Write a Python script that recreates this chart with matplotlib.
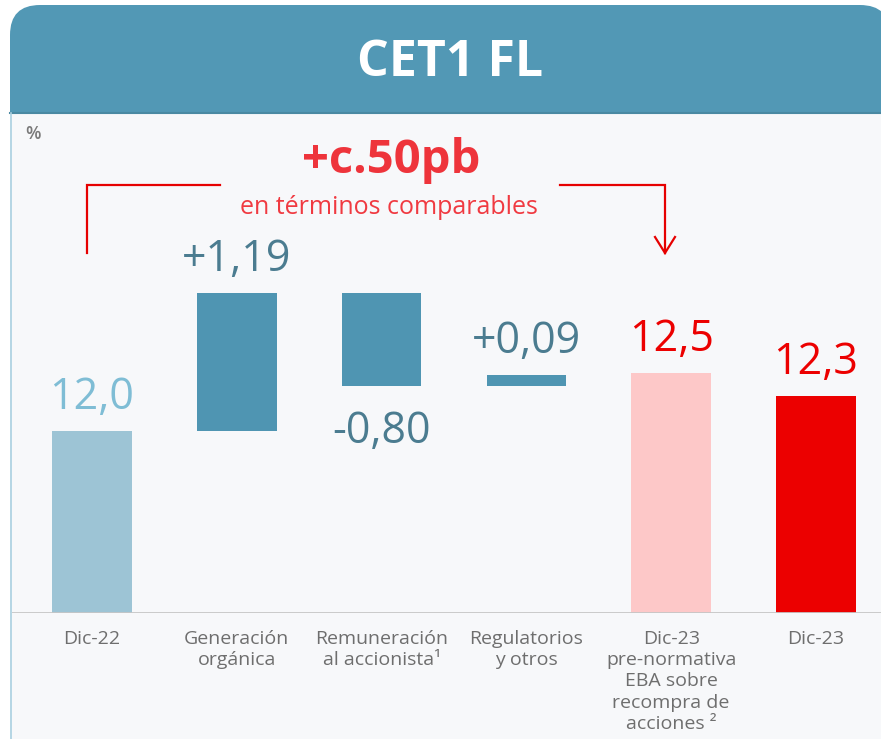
import matplotlib
matplotlib.use("Agg")
import matplotlib.pyplot as plt
from matplotlib.patches import FancyBboxPatch, Rectangle
import numpy as np

plt.rcParams['font.family'] = ['Open Sans', 'DejaVu Sans']

# ---- data ----
categories = ["Dic-22", "Generación\norgánica", "Remuneración\nal accionista¹",
              "Regulatorios\ny otros", "Dic-23\npre-normativa\nEBA sobre\nrecompra de\nacciones ²",
              "Dic-23"]
start_value = 12.0
deltas = [1.19, -0.80, 0.09]
pre_value = 12.5
end_value = 12.3
value_labels = ["12,0", "+1,19", "-0,80", "+0,09", "12,5", "12,3"]
title = "CET1 FL"
headline = "+c.50pb"
subheadline = "en términos comparables"
unit = "%"

# ---- colors ----
c_start = "#9dc4d5"
c_delta = "#4f95b2"
c_pre = "#fdc8c8"
c_end = "#ec0000"
lab_start = "#7fbdd5"
lab_delta = "#4b7c90"
lab_red = "#ec0000"

W, H = 881, 739
fig = plt.figure(figsize=(W / 100, H / 100), dpi=100)
fig.patch.set_facecolor("white")

# background in pixel coordinates
bg = fig.add_axes([0, 0, 1, 1])
bg.set_xlim(0, W)
bg.set_ylim(H, 0)
bg.axis("off")

header = FancyBboxPatch((10, 5), 880, 160, boxstyle="round,pad=0,rounding_size=30",
                        facecolor="#5298b5", edgecolor="none", zorder=1)
bg.add_patch(header)
body = Rectangle((10, 113), 900, 700, facecolor="#f7f8fa", edgecolor="none", zorder=2)
bg.add_patch(body)
bg.plot([10, W], [113, 113], color="#4a89a2", lw=1.5, zorder=3)
bg.plot([10.5, 10.5], [113, H], color="#a9d0e0", lw=1.2, zorder=3)
bg.text(450, 63, title, color="white", fontsize=36, fontweight="bold",
        ha="center", va="center", zorder=4)
bg.text(33, 134, unit, color="#7a7a7a", fontsize=13, fontweight="semibold",
        ha="center", va="center", zorder=4)

# headline and bracket
red_line = "#e60000"
bg.text(391, 160, headline, color="#ee343b", fontsize=34, fontweight="bold",
        ha="center", va="center", zorder=4)
bg.text(389, 207, subheadline, color="#f03a41", fontsize=18,
        ha="center", va="center", zorder=4)
bg.plot([87, 87, 220], [253, 185, 185], color=red_line, lw=1.6, zorder=4,
        solid_joinstyle="miter")
bg.plot([560, 665, 665], [185, 185, 253], color=red_line, lw=1.6, zorder=4,
        solid_joinstyle="miter")
bg.plot([655, 665, 675], [237, 253, 237], color=red_line, lw=1.6, zorder=4,
        solid_joinstyle="miter")

# ---- chart axes ----
base_px, top_px = 613, 113
left_px, right_px = 12, W
ax = fig.add_axes([left_px / W, (H - base_px) / H, (right_px - left_px) / W,
                   (base_px - top_px) / H])
ax.set_facecolor("none")
ax.patch.set_alpha(0)

ymin = 10.431
ymax = ymin + (base_px - top_px) / 116.0
ax.set_ylim(ymin, ymax)
x = np.arange(len(categories))
ax.set_xlim(-0.552, 5.449)

cum = np.cumsum([start_value] + deltas)
bottoms = [ymin, cum[0], min(cum[1], cum[2]), min(cum[2], cum[3]), ymin, ymin]
heights = [start_value - ymin, abs(deltas[0]), abs(deltas[1]), abs(deltas[2]),
           pre_value - ymin, end_value - ymin]
colors = [c_start, c_delta, c_delta, c_delta, c_pre, c_end]
bw = 0.55
ax.bar(x, heights, bottom=bottoms, width=bw, color=colors, zorder=2)

ax.axhline(ymin, color="#c6c6c6", lw=2, zorder=3)

tops = [b + h for b, h in zip(bottoms, heights)]
lab_colors = [lab_start, lab_delta, lab_delta, lab_delta, lab_red, lab_red]
for i, (lab, col) in enumerate(zip(value_labels, lab_colors)):
    if deltas and i in (1, 2, 3) and deltas[i - 1] < 0:
        ax.annotate(lab, (x[i], bottoms[i]), xytext=(0, -17), textcoords="offset points",
                    ha="center", va="top", fontsize=31, color=col)
    else:
        ax.annotate(lab, (x[i], tops[i]), xytext=(0, 16), textcoords="offset points",
                    ha="center", va="baseline", fontsize=31, color=col)

ax.set_xticks(x)
ax.set_xticklabels(categories, fontsize=14, color="#6e6e6e", linespacing=1.24)
ax.tick_params(axis="x", length=0, pad=12)
ax.set_yticks([])
for s in ax.spines.values():
    s.set_visible(False)

fig.savefig("out.png", dpi=100, facecolor=fig.get_facecolor())
